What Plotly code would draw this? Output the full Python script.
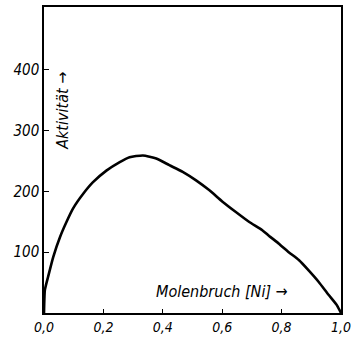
import plotly.graph_objects as go

mole_fraction = [0, 0.003, 0.014, 0.031, 0.054, 0.076, 0.098, 0.132, 0.165, 0.21, 0.255,
                 0.288, 0.333, 0.378, 0.422, 0.467, 0.512, 0.556, 0.601, 0.646, 0.69,
                 0.735, 0.757, 0.791, 0.824, 0.858, 0.891, 0.925, 0.958, 0.986, 1.0]
activity = [0, 38, 60, 92, 125, 150, 172, 196, 215, 234, 248,
            256, 259, 254, 243, 232, 218, 202, 183, 166, 150,
            136, 127, 114, 100, 87, 70, 51, 30, 13, 0]

x_ticks = [0, 0.2, 0.4, 0.6, 0.8, 1.0]
x_tick_labels = ["0,0", "0,2", "0,4", "0,6", "0,8", "1,0"]
y_ticks = [100, 200, 300, 400]
y_tick_labels = ["100", "200", "300", "400"]

FONT = "DejaVu Sans Condensed, Liberation Sans Narrow, sans-serif"

fig = go.Figure()
fig.add_trace(go.Scatter(
    x=mole_fraction, y=activity, mode="lines",
    line=dict(color="black", width=2.6, shape="spline", smoothing=0.5),
    hoverinfo="skip", showlegend=False, cliponaxis=False,
))

fig.update_layout(
    width=351, height=339,
    margin=dict(l=44, r=10, t=7, b=26, autoexpand=False),
    paper_bgcolor="white", plot_bgcolor="white",
    font=dict(family=FONT, size=15, color="black", style="italic"),
    xaxis=dict(
        range=[0, 1.0], tickvals=x_ticks, ticktext=x_tick_labels,
        showgrid=False, zeroline=False, showline=True, linecolor="black",
        linewidth=1.5, mirror=True, ticks="inside", ticklen=4, tickcolor="black",
        tickfont=dict(family=FONT, size=14, style="italic"),
        automargin=False, ticklabeloverflow="allow",
    ),
    yaxis=dict(
        range=[0, 503], tickvals=y_ticks, ticktext=y_tick_labels,
        showgrid=False, zeroline=False, showline=True, linecolor="black",
        linewidth=1.5, mirror=True, ticks="inside", ticklen=5, tickcolor="black",
        tickfont=dict(family=FONT, size=15, style="italic"),
        automargin=False, ticklabeloverflow="allow",
    ),
    annotations=[
        dict(x=0.062, y=333, xref="x", yref="y", text="Aktivität →",
             textangle=-90, showarrow=False,
             font=dict(family=FONT, size=16, style="italic")),
        dict(x=0.6, y=36, xref="x", yref="y", text="Molenbruch [Ni] →",
             showarrow=False,
             font=dict(family=FONT, size=16, style="italic")),
    ],
)

fig.write_html(
    "out.html",
    config={"displayModeBar": False},
    post_script="document.body.style.margin='0px';document.body.style.overflow='hidden';",
)
